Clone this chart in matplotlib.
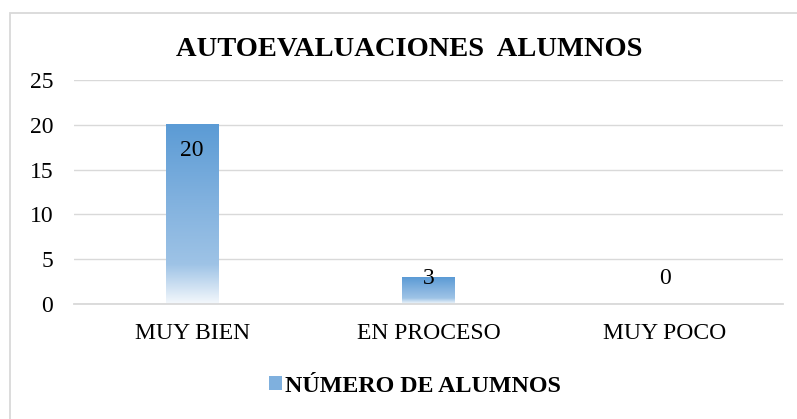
import numpy as np
import matplotlib.pyplot as plt
from matplotlib.colors import LinearSegmentedColormap
from matplotlib.patches import Patch, Rectangle

categories = ['MUY BIEN', 'EN PROCESO', 'MUY POCO']
alumnos = [20, 3, 0]
yticks = [0, 5, 10, 15, 20, 25]

plt.rcParams['font.family'] = ['Liberation Serif', 'DejaVu Serif']

fig = plt.figure(figsize=(7.97, 4.19), dpi=100)
ax = fig.add_axes([74 / 797, 1 - 304 / 419, 709 / 797, 224 / 419])

# gradient from white (bottom) to blue (top), like Excel fill
cmap = LinearSegmentedColormap.from_list(
    'grad', [(0, '#f4f8fc'), (0.22, '#9ec3e6'), (0.6, '#7fb0de'), (1, '#5b9bd5')])
grad = np.linspace(0, 1, 256).reshape(-1, 1)

x = np.arange(len(categories))
width = 0.224
bars = ax.bar(x, alumnos, width=width, color='none', edgecolor='none')
for bar, v in zip(bars, alumnos):
    if v > 0:
        x0 = bar.get_x()
        ax.imshow(grad, cmap=cmap, origin='lower', aspect='auto',
                  extent=[x0, x0 + bar.get_width(), 0, bar.get_height()], zorder=2)
    # label inside the top end, but never lower than a minimum height
    ax.text(bar.get_x() + bar.get_width() / 2, max(v - 2.9, 2.8), str(v),
            ha='center', va='center', fontsize=17, zorder=3)

ax.set_xlim(-0.5, 2.5)
ax.set_ylim(0, 25)
ax.set_yticks(yticks)
ax.set_xticks(x)
ax.set_xticklabels(categories)
ax.tick_params(length=0, labelsize=17)
ax.tick_params(axis='x', pad=14)
ax.tick_params(axis='y', pad=15)
ax.grid(axis='y', color='#d9d9d9', linewidth=1)
ax.set_axisbelow(True)
for s in ['top', 'right', 'left']:
    ax.spines[s].set_visible(False)
ax.spines['bottom'].set_color('#d9d9d9')
ax.spines['bottom'].set_linewidth(1.3)

fig.text(0.513, 1 - 49 / 419, 'AUTOEVALUACIONES  ALUMNOS', ha='center', va='center',
         fontsize=20.5, fontweight='bold')

leg = fig.legend(handles=[Patch(facecolor='#7fb0de', label='NÚMERO DE ALUMNOS')],
                 loc='center', bbox_to_anchor=(415 / 797, 1 - 386 / 419), frameon=False,
                 prop={'size': 17.3, 'weight': 'bold'}, handlelength=0.55, handleheight=0.55,
                 handletextpad=0.1)

# chart area border (only left and top edges fall inside the picture)
fig.patches.append(Rectangle((10 / 797, -0.05), 1.0, 1.05 - 13 / 419,
                             transform=fig.transFigure, fill=False,
                             edgecolor='#d9d9d9', linewidth=1.3))

plt.savefig('out.png', dpi=100)
